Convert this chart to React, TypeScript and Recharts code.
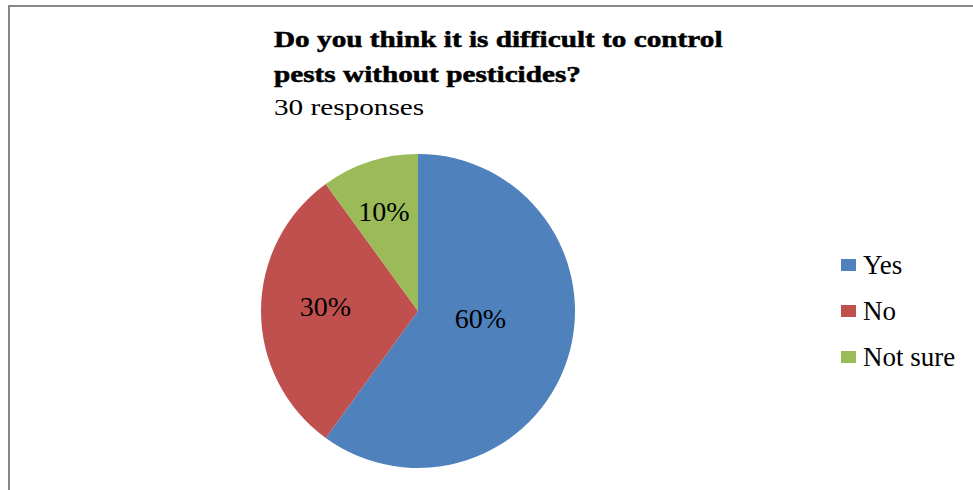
import React from "react";
import { PieChart, Pie, Cell, Legend } from "recharts";

const categories = ["Yes", "No", "Not sure"];
const values = [60, 30, 10];
const percentLabels = ["60%", "30%", "10%"];
const colors = ["#4F81BD", "#C0504D", "#9BBB59"];

const titleLines = ["Do you think it is difficult to control", "pests without pesticides?"];
const subtitle = "30 responses";

const data = categories.map((name, i) => ({ name, value: values[i], label: percentLabels[i] }));

const RAD = Math.PI / 180;
const labelRadius = [0.4, 0.59, 0.667];
const labelNudge = [11, -2.5, 1];

const renderLabel = (props: any) => {
  const { cx, cy, midAngle, outerRadius, index } = props;
  const a = (midAngle + labelNudge[index]) * RAD;
  const r = outerRadius * labelRadius[index];
  const x = cx + r * Math.cos(a);
  const y = cy - r * Math.sin(a);
  return (
    <text
      x={x}
      y={y}
      textAnchor="middle"
      dominantBaseline="central"
      fontFamily="'Liberation Serif', serif"
      fontSize={28}
      fill="#000"
    >
      {data[index].label}
    </text>
  );
};

const renderLegend = () => {
  return (
    <div style={{ fontFamily: "'Liberation Serif', serif", fontSize: 27, color: "#000" }}>
      {data.map((d, i) => (
        <div key={i} style={{ height: 46, display: "flex", alignItems: "center" }}>
          <div style={{ width: 15, height: 12, background: colors[i], marginRight: 7 }} />
          <span style={{ lineHeight: "27px" }}>{d.name}</span>
        </div>
      ))}
    </div>
  );
};

export default function App() {
  return (
    <div style={{ position: "absolute", left: 0, top: 0, width: 973, height: 490, background: "#fff", overflow: "hidden" }}>
      <PieChart width={973} height={490} margin={{ top: 0, right: 0, bottom: 0, left: 0 }}>
        <Pie
          data={data}
          dataKey="value"
          nameKey="name"
          cx={418}
          cy={311}
          outerRadius={157}
          startAngle={90}
          endAngle={-270}
          stroke="none"
          isAnimationActive={false}
          labelLine={false}
          label={renderLabel}
        >
          {data.map((d, i) => (
            <Cell key={d.name} fill={colors[i]} />
          ))}
        </Pie>
        <Legend
          layout="vertical"
          align="right"
          verticalAlign="top"
          content={renderLegend}
          wrapperStyle={{ left: 841, top: 242, width: 132, right: "auto" }}
        />
      </PieChart>
      <svg width={973} height={490} style={{ position: "absolute", left: 0, top: 0, pointerEvents: "none" }}>
        <line x1={8} y1={6} x2={973} y2={6} stroke="#878787" strokeWidth={2} />
        <line x1={9} y1={5} x2={9} y2={490} stroke="#878787" strokeWidth={2} />
        {titleLines.map((t, i) => (
          <text
            key={i}
            transform={`translate(274, ${47 + i * 35}) scale(1.3, 1)`}
            fontFamily="'Liberation Serif', serif"
            fontWeight="bold"
            fontSize={22.5}
            fill="#000"
            stroke="#000"
            strokeWidth={0.5}
          >
            {t}
          </text>
        ))}
        <text
          transform="translate(274, 115) scale(1.3, 1)"
          fontFamily="'Liberation Serif', serif"
          fontSize={22.5}
          fill="#000"
        >
          {subtitle}
        </text>
      </svg>
    </div>
  );
}
